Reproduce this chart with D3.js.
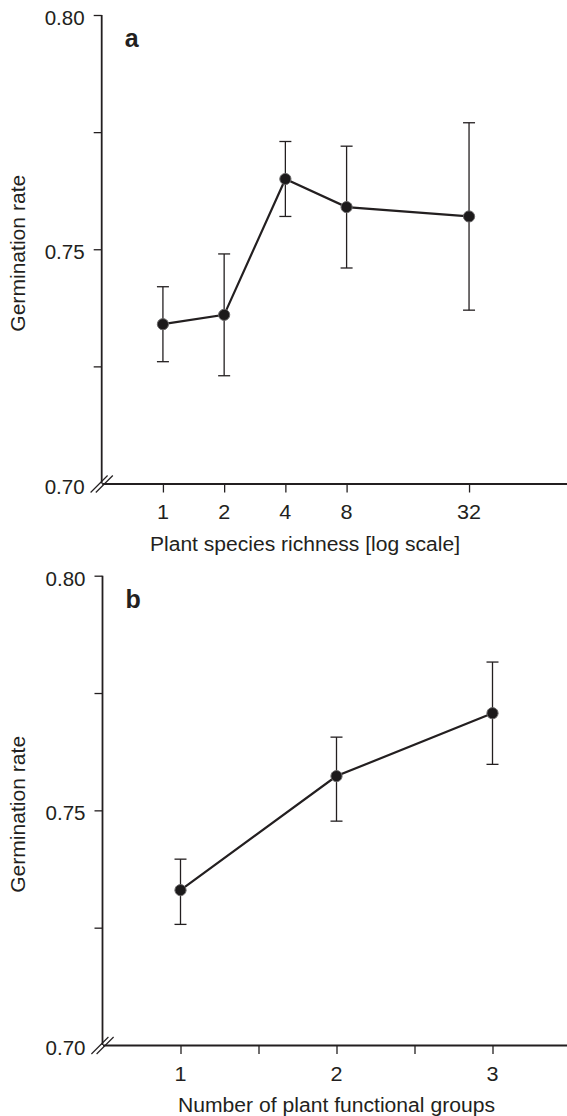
<!DOCTYPE html>
<html>
<head>
<meta charset="utf-8">
<script src="https://cdn.jsdelivr.net/npm/d3@7"></script>
<style>
  html, body { margin: 0; padding: 0; background: #fff; }
  svg { display: block; }
  text { font-family: "Liberation Sans", Arial, sans-serif; fill: #231f20; }
</style>
</head>
<body>
<svg id="chart" width="567" height="1116"></svg>
<script>
// ---- Data (panel a) ----
const richness = [1, 2, 4, 8, 32];
const richMean = [0.734, 0.736, 0.765, 0.759, 0.757];
const richUpper = [0.742, 0.749, 0.773, 0.772, 0.777];
const richLower = [0.726, 0.723, 0.757, 0.746, 0.737];
const richTicks = [1, 2, 4, 8, 32];

// ---- Data (panel b) ----
const groups = [1, 2, 3];
const groupMean = [0.733, 0.7573, 0.7707];
const groupUpper = [0.7396, 0.7656, 0.7816];
const groupLower = [0.7257, 0.7477, 0.7598];
const groupTicks = [1, 1.5, 2, 2.5, 3];
const groupLabels = [1, 2, 3];

// ---- Shared y ticks ----
const yTicks = [0.725, 0.75, 0.775, 0.80];
const yLabels = [0.70, 0.75, 0.80];

const ink = "#231f20";
const svg = d3.select("#chart");

function panel(cfg) {
  const g = svg.append("g");
  const x = cfg.x, y = cfg.y;
  const [x0] = x.range();
  const y0 = y(0.70);

  // y axis line
  g.append("line").attr("x1", x0).attr("x2", x0)
    .attr("y1", y(0.80)).attr("y2", y0)
    .attr("stroke", ink).attr("stroke-width", 1.8);
  // y ticks
  const yAxis = d3.axisLeft(y).tickValues(yTicks).tickSize(8).tickFormat("");
  const ya = g.append("g").attr("transform", `translate(${x0},0)`).call(yAxis);
  ya.select(".domain").remove();
  ya.selectAll(".tick line").attr("stroke", ink).attr("stroke-width", 1.3);
  // y labels
  g.selectAll(".ylab").data(yLabels).enter().append("text")
    .attr("x", x0 - 17).attr("y", d => y(d) + 10)
    .attr("text-anchor", "end").attr("font-size", 20)
    .attr("textLength", 40).attr("lengthAdjust", "spacingAndGlyphs")
    .text(d => d3.format(".2f")(d));

  // x axis
  const xAxis = d3.axisBottom(x).tickValues(cfg.ticks).tickSize(9).tickFormat("").tickSizeOuter(0);
  const xa = g.append("g").attr("transform", `translate(0,${y0})`).call(xAxis);
  xa.select(".domain").attr("stroke", ink).attr("stroke-width", 1.8);
  xa.selectAll(".tick line").attr("stroke", ink).attr("stroke-width", 1.3);
  g.selectAll(".xlab").data(cfg.labels).enter().append("text")
    .attr("x", d => x(d)).attr("y", y0 + 36)
    .attr("text-anchor", "middle").attr("font-size", 20)
    .attr("transform", d => `translate(${x(d)},0) scale(1.08,1) translate(${-x(d)},0)`)
    .text(d => d);

  // axis break marks
  [-2.6, 2.6].forEach(off => {
    g.append("line")
      .attr("x1", x0 + off - 8.5).attr("y1", y0 + 9)
      .attr("x2", x0 + off + 8.5).attr("y2", y0 - 8)
      .attr("stroke", ink).attr("stroke-width", 1.2);
  });

  // titles
  g.append("text").attr("x", cfg.titleX).attr("y", y0 + 67)
    .attr("text-anchor", "middle").attr("font-size", 20)
    .attr("textLength", cfg.titleLen).attr("lengthAdjust", "spacingAndGlyphs")
    .text(cfg.xTitle);
  g.append("text")
    .attr("transform", `translate(25,${y(0.75) + 4}) rotate(-90)`)
    .attr("text-anchor", "middle").attr("font-size", 20)
    .attr("textLength", 157).attr("lengthAdjust", "spacingAndGlyphs")
    .text("Germination rate");
  g.append("text").attr("x", x0 + 23).attr("y", y(0.80) + 32)
    .attr("font-size", 25).attr("font-weight", "bold").text(cfg.letter);

  // data
  const pts = cfg.xs.map((d, i) => ({ x: d, m: cfg.mean[i], hi: cfg.upper[i], lo: cfg.lower[i] }));
  const eb = g.append("g");
  pts.forEach(p => {
    eb.append("line").attr("x1", x(p.x)).attr("x2", x(p.x))
      .attr("y1", y(p.hi)).attr("y2", y(p.lo))
      .attr("stroke", ink).attr("stroke-width", 1.3);
    [p.hi, p.lo].forEach(v => {
      eb.append("line").attr("x1", x(p.x) - 6).attr("x2", x(p.x) + 6)
        .attr("y1", y(v)).attr("y2", y(v))
        .attr("stroke", ink).attr("stroke-width", 1.3);
    });
  });
  g.append("path").datum(pts)
    .attr("d", d3.line().x(d => x(d.x)).y(d => y(d.m)))
    .attr("fill", "none").attr("stroke", ink).attr("stroke-width", 2.2);
  g.selectAll(".pt").data(pts).enter().append("circle")
    .attr("cx", d => x(d.x)).attr("cy", d => y(d.m)).attr("r", 5.6)
    .attr("fill", "#1c1a1b").attr("stroke", "#6a6869").attr("stroke-width", 1);
}

panel({
  x: d3.scaleLog().base(2).domain([0.5, Math.pow(2, 6.6)]).range([101.7, 567]),
  y: d3.scaleLinear().domain([0.70, 0.80]).range([483.5, 15]),
  xs: richness, mean: richMean, upper: richUpper, lower: richLower,
  ticks: richTicks, labels: richTicks,
  xTitle: "Plant species richness [log scale]", titleX: 305, titleLen: 310, letter: "a"
});

panel({
  x: d3.scaleLinear().domain([0.5, 3.5]).range([102.5, 570.5]),
  y: d3.scaleLinear().domain([0.70, 0.80]).range([1045, 575.7]),
  xs: groups, mean: groupMean, upper: groupUpper, lower: groupLower,
  ticks: groupTicks, labels: groupLabels,
  xTitle: "Number of plant functional groups", titleX: 336.5, titleLen: 317, letter: "b"
});
</script>
</body>
</html>
